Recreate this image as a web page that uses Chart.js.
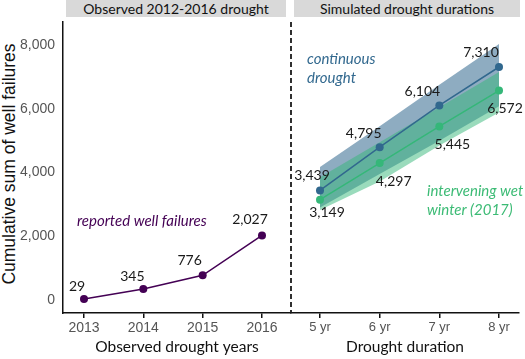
<!DOCTYPE html>
<html>
<head>
<meta charset="utf-8">
<script src="https://cdn.jsdelivr.net/npm/chart.js@4/dist/chart.umd.min.js"></script>
<style>
  html, body { margin: 0; padding: 0; background: #fff; }
  body { width: 525px; height: 359px; position: relative; overflow: hidden; }
  canvas { position: absolute; top: 0; }
  .strip { position: absolute; top: 0; height: 17px; line-height: 17px; background: #d9d9d9;
           font-family: Lato, "Open Sans", sans-serif; font-size: 14px; color: #111; text-align: center; }
  #ytitle { position: absolute; width: 330px; height: 22px; line-height: 22px; left: -156px; top: 153px;
            transform: rotate(-90deg); text-align: center; font-family: "Liberation Sans", Arial, sans-serif;
            font-size: 17.5px; color: #111; white-space: nowrap; }
</style>
</head>
<body>
<div class="strip" style="left:66px;width:220px;">Observed 2012-2016 drought</div>
<div class="strip" style="left:294px;width:226px;">Simulated drought durations</div>
<div id="ytitle">Cumulative sum of well failures</div>
<div style="position:absolute;left:0;top:0;width:300px;height:359px;"><canvas id="left" width="300" height="359" style="left:0"></canvas></div>
<div style="position:absolute;left:280px;top:0;width:245px;height:359px;"><canvas id="right" width="245" height="359" style="left:0"></canvas></div>
<script>
// ---- data ----
const observedYears = [2013, 2014, 2015, 2016];
const reportedFailures = [29, 345, 776, 2027];

const durations = [5, 6, 7, 8];
const continuousDrought = [3439, 4795, 6104, 7310];
const continuousUpper = [4170, 5450, 6750, 8030];
const continuousLower = [2900, 3950, 5000, 6080];
const wetWinter = [3149, 4297, 5445, 6572];
const wetWinterUpper = [3850, 4950, 6050, 7150];
const wetWinterLower = [2820, 3720, 4850, 5880];

const yTicks = [0, 2000, 4000, 6000, 8000];

// ---- styles ----
const PURPLE = '#440154';
const BLUE = '#31688e';
const GREEN = '#35b779';
const labelFont = '14px Lato, "Open Sans", sans-serif';
const tickFont = { family: '"Liberation Sans", Arial, sans-serif', size: 14 };
const tickFontSmall = { family: '"Liberation Sans", Arial, sans-serif', size: 13 };
const titleFont = { family: 'Lato, "Open Sans", sans-serif', size: 15.5 };

const fmt = v => v.toLocaleString('en-US');

const valueLabels = {
  id: 'valueLabels',
  afterDatasetsDraw(chart) {
    const ctx = chart.ctx;
    ctx.save();
    ctx.font = labelFont;
    ctx.fillStyle = '#1a1a1a';
    ctx.textAlign = 'center';
    ctx.textBaseline = 'middle';
    chart.data.datasets.forEach((ds, i) => {
      if (!ds.labelOffsets) return;
      const meta = chart.getDatasetMeta(i);
      meta.data.forEach((pt, j) => {
        const o = ds.labelOffsets[j];
        ctx.fillText(fmt(ds.data[j].y), pt.x + o[0], pt.y + o[1]);
      });
    });
    (chart.options.plugins.notes || []).forEach(n => {
      ctx.font = n.font;
      ctx.fillStyle = n.color;
      ctx.textAlign = 'left';
      n.lines.forEach((t, k) => ctx.fillText(t, n.x, n.y + k * n.lh));
    });
    ctx.restore();
  }
};

const dashedDivider = {
  id: 'dashedDivider',
  afterDraw(chart) {
    if (!chart.options.plugins.divider) return;
    const { left, top, bottom } = chart.chartArea;
    const ctx = chart.ctx;
    ctx.save();
    ctx.strokeStyle = '#1a1a1a';
    ctx.lineWidth = 1.8;
    ctx.setLineDash([5, 3]);
    ctx.beginPath();
    ctx.moveTo(left, top);
    ctx.lineTo(left, bottom);
    ctx.stroke();
    ctx.restore();
  }
};

const pts = (xs, ys) => xs.map((x, i) => ({ x: x, y: ys[i] }));

const yAxis = (show) => ({
  type: 'linear', min: -408, max: 8722,
  afterBuildTicks: s => { s.ticks = yTicks.map(v => ({ value: v })); },
  afterFit: s => { s.width = show ? 63 : 11; },
  grid: { display: false, drawTicks: false },
  border: { display: show, color: '#111', width: 1.5 },
  ticks: { display: show, padding: 8, color: '#555', font: tickFont, callback: v => fmt(v) }
});

const xAxis = (min, max, ticks, cb, title, tf) => ({
  type: 'linear', min: min, max: max,
  afterBuildTicks: s => { s.ticks = ticks.map(v => ({ value: v })); },
  afterFit: s => { s.height = 46; },
  grid: { display: true, drawOnChartArea: false, drawTicks: true, tickLength: 5, color: '#111', lineWidth: 1.5 },
  border: { display: true, color: '#111', width: 1.5 },
  ticks: { padding: 2, color: '#555', font: tf, callback: cb, autoSkip: false, maxRotation: 0 },
  title: { display: true, text: title, color: '#111', font: titleFont, padding: { top: 0, bottom: 3 } }
});

Chart.defaults.animation = false;

new Chart(document.getElementById('left'), {
  type: 'line',
  data: {
    datasets: [{
      data: pts(observedYears, reportedFailures),
      borderColor: PURPLE, backgroundColor: PURPLE, borderWidth: 1.5,
      pointRadius: 4, pointBorderWidth: 0, pointBackgroundColor: PURPLE,
      labelOffsets: [[-7, -13], [-11, -13], [-13, -15], [-12, -16]]
    }]
  },
  options: {
    responsive: false, maintainAspectRatio: false,
    layout: { padding: { top: 22, right: 9, left: 0, bottom: 0 } },
    plugins: {
      legend: { display: false }, tooltip: { enabled: false },
      notes: [{ x: 77, y: 221, lh: 0, font: 'italic 15px Lato, "Open Sans", sans-serif', color: PURPLE, lines: ['reported well failures'] }]
    },
    scales: {
      x: xAxis(2012.646, 2016.489, observedYears, v => String(v), 'Observed drought years', tickFont),
      y: yAxis(true)
    }
  },
  plugins: [valueLabels]
});

new Chart(document.getElementById('right'), {
  type: 'line',
  data: {
    datasets: [
      { data: pts(durations, wetWinter), borderColor: GREEN, backgroundColor: GREEN, borderWidth: 1.5,
        pointRadius: 4, pointBorderWidth: 0, pointBackgroundColor: GREEN, fill: false,
        labelOffsets: [[7, 13], [14, 18], [13, 18], [6, 18]] },
      { data: pts(durations, continuousDrought), borderColor: BLUE, backgroundColor: BLUE, borderWidth: 1.5,
        pointRadius: 4, pointBorderWidth: 0, pointBackgroundColor: BLUE, fill: false,
        labelOffsets: [[-8, -15], [-16, -14], [-17, -14], [-18, -15]] },
      { data: pts(durations, wetWinterUpper), borderWidth: 0, pointRadius: 0,
        fill: '+1', backgroundColor: 'rgba(53,183,121,0.5)' },
      { data: pts(durations, wetWinterLower), borderWidth: 0, pointRadius: 0, fill: false },
      { data: pts(durations, continuousUpper), borderWidth: 0, pointRadius: 0,
        fill: '+1', backgroundColor: 'rgba(49,104,142,0.55)' },
      { data: pts(durations, continuousLower), borderWidth: 0, pointRadius: 0, fill: false }
    ]
  },
  options: {
    responsive: false, maintainAspectRatio: false,
    layout: { padding: { top: 22, right: 6, left: 0, bottom: 0 } },
    plugins: {
      legend: { display: false }, tooltip: { enabled: false },
      filler: { propagate: false },
      divider: true,
      notes: [
        { x: 27, y: 59, lh: 19, font: 'italic 15px Lato, "Open Sans", sans-serif', color: BLUE, lines: ['continuous', 'drought'] },
        { x: 147, y: 191, lh: 19, font: 'italic 15px Lato, "Open Sans", sans-serif', color: '#3cbb75', lines: ['intervening wet', 'winter (2017)'] }
      ]
    },
    scales: {
      x: xAxis(4.514, 8.335, durations, v => v + ' yr', 'Drought duration', tickFontSmall),
      y: yAxis(false)
    }
  },
  plugins: [valueLabels, dashedDivider]
});
</script>
</body>
</html>
